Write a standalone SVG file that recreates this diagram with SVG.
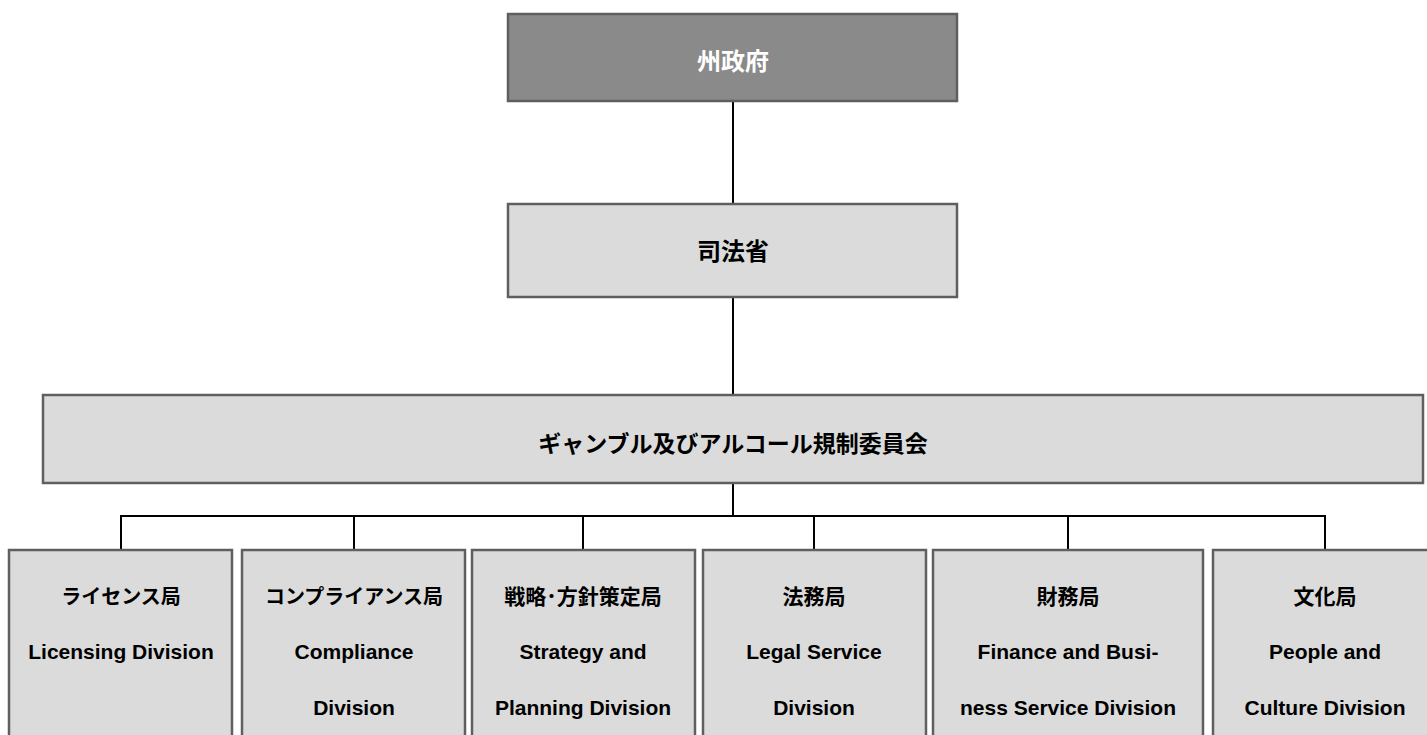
<svg xmlns="http://www.w3.org/2000/svg" width="1427" height="735" viewBox="0 0 1427 735">
<style>
.box{fill:#dbdbdb;stroke:#5f5f5f;stroke-width:2.5}
.dark{fill:#8a8a8a;stroke:#5f5f5f;stroke-width:2.5}
.t{font-family:"Liberation Sans","Noto Sans CJK JP",sans-serif;font-weight:bold;text-anchor:middle;fill:#000}
.big{font-size:23px}
.top{font-size:24px}
.sm{font-size:21px}
.kana{font-size:20px}
.w{fill:#fff}
.c{stroke:#000;stroke-width:2;fill:none}
</style>
<rect width="1427" height="735" fill="#fff"/>
<g id="connectors">
<line class="c" x1="733" y1="101" x2="733" y2="204"/>
<line class="c" x1="733" y1="297" x2="733" y2="395"/>
<line class="c" x1="733" y1="483" x2="733" y2="516" stroke-width="3"/>
<polyline class="c" points="121,550 121,516 1325,516 1325,550"/>
<line class="c" x1="354" y1="516" x2="354" y2="550"/>
<line class="c" x1="583" y1="516" x2="583" y2="550"/>
<line class="c" x1="814" y1="516" x2="814" y2="550"/>
<line class="c" x1="1068" y1="516" x2="1068" y2="550"/>
</g>
<g id="n1"><rect class="dark" x="508" y="14" width="449" height="87"/><text class="t top w" x="733" y="70">州政府</text></g>
<g id="n2"><rect class="box" x="508" y="204" width="449" height="93"/><text class="t top" x="733" y="260">司法省</text></g>
<g id="n3"><rect class="box" x="43" y="395" width="1380" height="88" stroke-width="3"/><text class="t big" x="733" y="452">ギャンブル及びアルコール規制委員会</text></g>
<g id="n4"><rect class="box" x="9" y="550" width="223" height="200"/><text class="t kana" x="121" y="604">ライセンス局</text><text class="t sm" x="121" y="659">Licensing Division</text></g>
<g id="n5"><rect class="box" x="242" y="550" width="223" height="200"/><text class="t kana" x="354" y="604">コンプライアンス局</text><text class="t sm" x="354" y="659">Compliance</text><text class="t sm" x="354" y="715">Division</text></g>
<g id="n6"><rect class="box" x="472" y="550" width="223" height="200"/><text class="t sm" x="583" y="604">戦略･方針策定局</text><text class="t sm" x="583" y="659">Strategy and</text><text class="t sm" x="583" y="715">Planning Division</text></g>
<g id="n7"><rect class="box" x="703" y="550" width="223" height="200"/><text class="t sm" x="814" y="604">法務局</text><text class="t sm" x="814" y="659">Legal Service</text><text class="t sm" x="814" y="715">Division</text></g>
<g id="n8"><rect class="box" x="933" y="550" width="270" height="200"/><text class="t sm" x="1068" y="604">財務局</text><text class="t sm" x="1068" y="659">Finance and Busi-</text><text class="t sm" x="1068" y="715">ness Service Division</text></g>
<g id="n9"><rect class="box" x="1213" y="550" width="224" height="200"/><text class="t sm" x="1325" y="604">文化局</text><text class="t sm" x="1325" y="659">People and</text><text class="t sm" x="1325" y="715">Culture Division</text></g>
</svg>
